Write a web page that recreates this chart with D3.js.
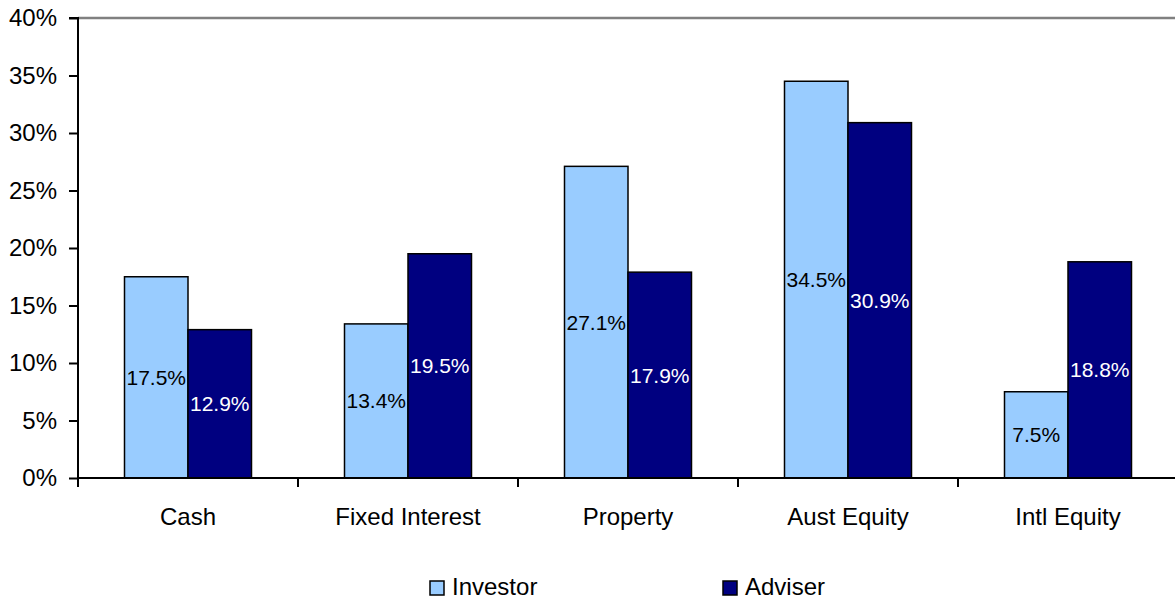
<!DOCTYPE html>
<html>
<head>
<meta charset="utf-8">
<script src="https://cdn.jsdelivr.net/npm/d3@7"></script>
<style>
  html, body { margin: 0; padding: 0; background: #fff; }
  svg { display: block; font-family: "Liberation Sans", Arial, sans-serif; }
</style>
</head>
<body>
<svg id="chart" width="1175" height="601"></svg>
<script>
const categories = ["Cash", "Fixed Interest", "Property", "Aust Equity", "Intl Equity"];
const seriesNames = ["Investor", "Adviser"];
const investorValues = [17.5, 13.4, 27.1, 34.5, 7.5];
const adviserValues = [12.9, 19.5, 17.9, 30.9, 18.8];
const yTicks = [0, 5, 10, 15, 20, 25, 30, 35, 40];
const colors = { Investor: "#99CCFF", Adviser: "#000080" };
const labelColors = { Investor: "#000000", Adviser: "#FFFFFF" };

(function () {
const svg = d3.select("#chart");
const pL = 78, pR = 1178, pT = 18, pB = 478;

const x0 = d3.scaleBand().domain(categories).range([pL, pR]).padding(0);
const bw = x0.bandwidth();
const groupW = 127;
const x1 = d3.scaleBand().domain(seriesNames)
  .range([(bw - groupW) / 2, (bw + groupW) / 2]).padding(0);
const y = d3.scaleLinear().domain([0, 40]).range([pB, pT]);

const data = categories.map((c, i) => ({
  cat: c,
  vals: [
    { s: "Investor", v: investorValues[i] },
    { s: "Adviser", v: adviserValues[i] }
  ]
}));

// top border
svg.append("line")
  .attr("x1", pL).attr("x2", pR)
  .attr("y1", y(40)).attr("y2", y(40))
  .attr("stroke", "#808080").attr("stroke-width", 2.5);

// bars
const g = svg.append("g");
const groups = g.selectAll("g.cat").data(data).join("g")
  .attr("transform", d => `translate(${x0(d.cat)},0)`);

groups.selectAll("rect").data(d => d.vals).join("rect")
  .attr("x", d => x1(d.s))
  .attr("y", d => y(d.v))
  .attr("width", x1.bandwidth())
  .attr("height", d => y(0) - y(d.v))
  .attr("fill", d => colors[d.s])
  .attr("stroke", "#000")
  .attr("stroke-width", 1.5);

groups.selectAll("text.lbl").data(d => d.vals).join("text")
  .attr("class", "lbl")
  .attr("x", d => x1(d.s) + x1.bandwidth() / 2)
  .attr("y", d => (y(d.v) + y(0)) / 2)
  .attr("text-anchor", "middle")
  .attr("dominant-baseline", "central")
  .attr("font-size", 21)
  .attr("fill", d => labelColors[d.s])
  .text(d => d.v.toFixed(1) + "%");

// y axis
const yAxis = d3.axisLeft(y).tickValues(yTicks).tickSize(9).tickPadding(12)
  .tickFormat(d => d + "%");
const ya = svg.append("g").attr("transform", `translate(${pL},0)`).call(yAxis);
ya.select(".domain").attr("stroke", "#000").attr("stroke-width", 2)
  .attr("d", `M-9,${pT}H0V${pB}`);
ya.selectAll(".tick line").attr("stroke", "#000").attr("stroke-width", 2);
ya.selectAll(".tick text").attr("font-size", 24).attr("fill", "#000")
  .attr("font-family", "Liberation Sans, Arial, sans-serif");

// x axis
const xAxis = d3.axisBottom(x0).tickSize(0).tickPadding(30);
const xa = svg.append("g").attr("transform", `translate(0,${pB})`).call(xAxis);
xa.select(".domain").attr("stroke", "#000").attr("stroke-width", 2)
  .attr("d", `M${pL},0H${pR}`);
xa.selectAll(".tick text").attr("font-size", 24).attr("fill", "#000")
  .attr("font-family", "Liberation Sans, Arial, sans-serif");
// category boundary ticks
const bounds = categories.map(c => x0(c)).concat([pR]);
xa.selectAll("line.bound").data(bounds).join("line")
  .attr("class", "bound")
  .attr("x1", d => d).attr("x2", d => d)
  .attr("y1", 0).attr("y2", 9)
  .attr("stroke", "#000").attr("stroke-width", 2);

// legend
const legendX = [430, 723];
const lg = svg.append("g");
seriesNames.forEach((s, i) => {
  lg.append("rect")
    .attr("x", legendX[i]).attr("y", 581)
    .attr("width", 14).attr("height", 14)
    .attr("fill", colors[s]).attr("stroke", "#000").attr("stroke-width", 1.5);
  lg.append("text")
    .attr("x", legendX[i] + 22).attr("y", 595)
    .attr("font-size", 24).attr("fill", "#000")
    .text(s);
});
})();
</script>
</body>
</html>
